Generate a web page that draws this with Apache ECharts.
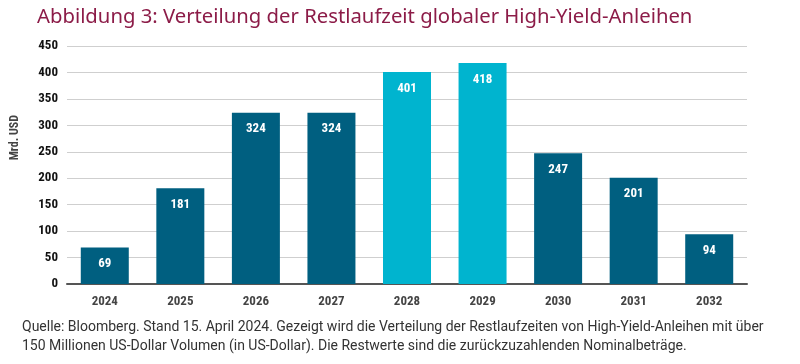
<!DOCTYPE html>
<html><head><meta charset="utf-8">
<script src="https://cdn.jsdelivr.net/npm/echarts@6/dist/echarts.min.js"></script>
<style>html,body{margin:0;padding:0;background:#fff}#c{width:800px;height:364px}</style>
</head><body><div id="c"></div>
<script>
const categories = ['2024','2025','2026','2027','2028','2029','2030','2031','2032'];
const values = [69, 181, 324, 324, 401, 418, 247, 201, 94];
const highlighted = [false, false, false, false, true, true, false, false, false];
const yTicks = [0, 50, 100, 150, 200, 250, 300, 350, 400, 450];
const titleText = 'Abbildung 3: Verteilung der Restlaufzeit globaler High-Yield-Anleihen';
const yAxisName = 'Mrd. USD';
const note1 = 'Quelle: Bloomberg. Stand 15. April 2024. Gezeigt wird die Verteilung der Restlaufzeiten von High-Yield-Anleihen mit über';
const note2 = '150 Millionen US-Dollar Volumen (in US-Dollar). Die Restwerte sind die zurückzuzahlenden Nominalbeträge.';

const DARK = '#005F80', LIGHT = '#00B4CF';
const condensed = '"Liberation Sans Narrow", "Roboto Condensed", "DejaVu Sans Condensed", sans-serif';
const chart = echarts.init(document.getElementById('c'));
chart.setOption({
  animation: false,
  grid: { left: 67, right: 53, top: 46, bottom: 80 },
  title: { text: titleText, left: 32, top: 2,
    textStyle: { color: '#8C1C48', fontSize: 20.3, fontWeight: 'normal', fontFamily: '"Noto Sans", sans-serif' } },
  xAxis: { type: 'category', data: categories,
    axisLine: { lineStyle: { color: '#555', width: 2 } }, axisTick: { show: false },
    axisLabel: { color: '#444', fontWeight: 'bold', fontSize: 13, margin: 11, fontFamily: condensed } },
  yAxis: { type: 'value', min: yTicks[0], max: yTicks[yTicks.length-1], interval: 50,
    axisLine: { show: false }, axisTick: { show: false },
    splitLine: { lineStyle: { color: '#cfcfcf', width: 1 } },
    axisLabel: { color: '#111', fontWeight: 'bold', fontSize: 13, margin: 9, fontFamily: condensed } },
  graphic: [
    { type: 'text', left: 9, top: 115, rotation: Math.PI/2,
      style: { text: yAxisName, fill: '#444', font: 'bold 12px ' + condensed } },
    { type: 'text', left: 22, top: 320, style: { text: note1, fill: '#333', font: '14px Roboto, sans-serif' } },
    { type: 'text', left: 22, top: 339, style: { text: note2, fill: '#333', font: '14px Roboto, sans-serif' } }
  ],
  series: [{
    type: 'bar', barWidth: 48,
    data: values.map((v, i) => ({ value: v, itemStyle: { color: highlighted[i] ? LIGHT : DARK } })),
    label: { show: true, position: 'insideTop', distance: 10, color: '#fff', fontWeight: 'bold', fontSize: 13, fontFamily: condensed }
  }]
});
</script></body></html>
